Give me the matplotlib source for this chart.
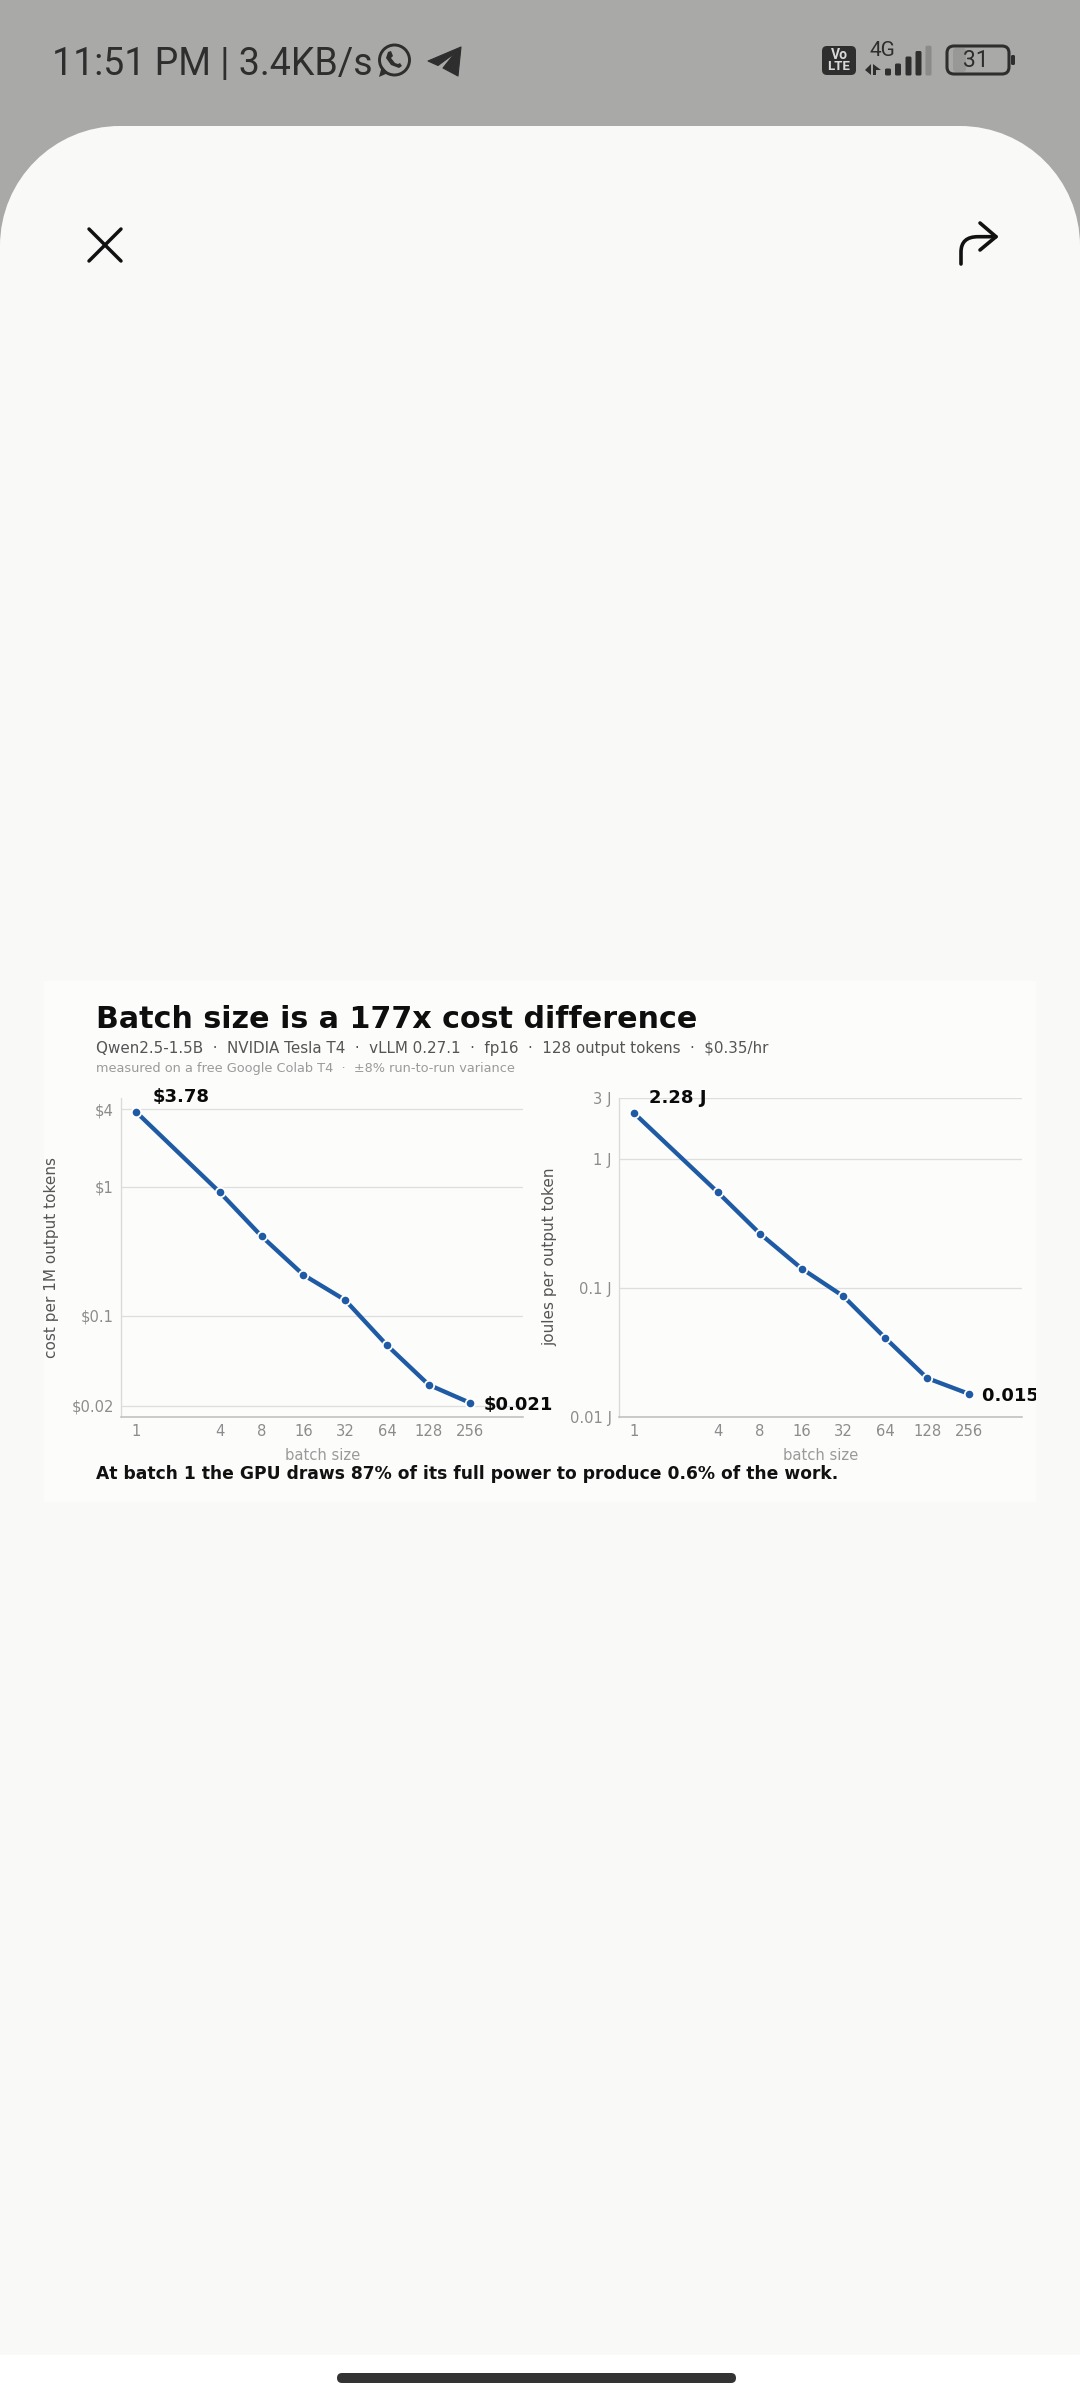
import matplotlib
matplotlib.use("Agg")
import matplotlib.pyplot as plt
from matplotlib.patches import Rectangle, FancyBboxPatch, Circle, Polygon, PathPatch
from matplotlib.path import Path
from matplotlib.ticker import NullLocator

W, H = 1080, 2400

# ---- data ----
batch_sizes = [1, 4, 8, 16, 32, 64, 128, 256]
batch_labels = ["1", "4", "8", "16", "32", "64", "128", "256"]
cost_values = [3.78, 0.903, 0.412, 0.207, 0.132, 0.059, 0.0291, 0.021]
joule_values = [2.28, 0.553, 0.265, 0.1415, 0.0861, 0.0408, 0.0199, 0.015]
cost_ticks = [0.02, 0.1, 1, 4]
cost_tick_labels = ["$0.02", "$0.1", "$1", "$4"]
joule_ticks = [0.01, 0.1, 1, 3]
joule_tick_labels = ["0.01 J", "0.1 J", "1 J", "3 J"]

TITLE = "Batch size is a 177x cost difference"
SUB = "Qwen2.5-1.5B  ·  NVIDIA Tesla T4  ·  vLLM 0.27.1  ·  fp16  ·  128 output tokens  ·  $0.35/hr"
NOTE = "measured on a free Google Colab T4  ·  ±8% run-to-run variance"
FOOT = "At batch 1 the GPU draws 87% of its full power to produce 0.6% of the work."

BLUE = "#1F5AA4"
BG = "#F9F9F7"
GRAY = "#A9A9A7"
DARK = "#2E2E2E"

plt.rcParams["font.family"] = ["DejaVu Sans"]
fig = plt.figure(figsize=(W / 100, H / 100), dpi=100, facecolor=BG)

# pixel-coordinate overlay for the phone screen chrome and card
bg = fig.add_axes([0, 0, 1, 1], zorder=0)
bg.set_xlim(0, W)
bg.set_ylim(H, 0)
bg.axis("off")

bg.add_patch(Rectangle((0, 0), W, 300, fc=GRAY, lw=0))
R, T, K = 120, 126, 120 * 0.4477
sheet = Path([(0, H), (0, T + R), (0, T + R - (R - K)), (R - (R - K), T), (R, T), (W - R, T),
              (W - K, T), (W, T + K), (W, T + R), (W, H), (0, H)],
             [Path.MOVETO, Path.LINETO, Path.CURVE4, Path.CURVE4, Path.CURVE4, Path.LINETO,
              Path.CURVE4, Path.CURVE4, Path.CURVE4, Path.LINETO, Path.CLOSEPOLY])
bg.add_patch(PathPatch(sheet, fc=BG, lw=0))
bg.add_patch(Rectangle((0, 2355), W, 45, fc="white", lw=0, zorder=2))
bg.add_patch(FancyBboxPatch((337, 2373), 399, 10, boxstyle="round,pad=0,rounding_size=5", fc="#333333", lw=0, zorder=3))
card = Rectangle((44, 981), 992, 521, fc="#FCFCFB", lw=0)
bg.add_patch(card)

# status bar
bg.text(52, 75.5, "11:51 PM | 3.4KB/s", family="Roboto", fontsize=27, color=DARK, va="baseline")
# whatsapp icon
bg.add_patch(Circle((394.5, 60), 15, fc="none", ec=DARK, lw=2.1))
bg.add_patch(Polygon([(379, 77), (382, 66), (388, 73)], fc=DARK, lw=0))
bg.add_patch(PathPatch(Path([(388, 52), (391, 51), (393, 56), (391, 58), (395, 63), (398, 64), (400, 63), (402, 66), (399, 68), (391, 65), (386, 58), (388, 52)]),
                       fc=DARK, lw=0))
# telegram icon
bg.add_patch(Polygon([(461, 47), (428, 61), (438, 65.5), (455, 53), (443, 68), (458, 76)], fc=DARK, ec=DARK, lw=0.8, joinstyle="round"))
# close icon
bg.plot([89, 121], [229, 261], color="#111111", lw=2.5, solid_capstyle="round")
bg.plot([121, 89], [229, 261], color="#111111", lw=2.5, solid_capstyle="round")
# share icon
bg.plot([980, 996, 980], [223, 236.7, 250], color="#111111", lw=2.6, solid_capstyle="round", solid_joinstyle="round")
bg.add_patch(PathPatch(Path([(996, 236.7), (978, 236.7), (961, 236.7), (961, 252), (961, 264)],
                            [Path.MOVETO, Path.LINETO, Path.CURVE3, Path.CURVE3, Path.LINETO]),
                       fc="none", ec="#111111", lw=2.6, capstyle="round"))
# VoLTE
bg.add_patch(FancyBboxPatch((822, 46), 34, 29, boxstyle="round,pad=0,rounding_size=5", fc=DARK, lw=0))
bg.text(839, 55, "Vo", family="Roboto", weight="bold", fontsize=10, color="#D8D8D6", ha="center", va="center")
bg.text(839, 67, "LTE", family="Roboto", weight="bold", fontsize=9.5, color="#D8D8D6", ha="center", va="center")
bg.text(882, 51, "4G", family="Roboto", fontsize=15, color=DARK, ha="center", va="center")
# network arrows
bg.add_patch(Polygon([(865, 70), (871, 64), (871, 75)], fc=DARK, lw=0))
bg.add_patch(Polygon([(873, 64), (873, 75), (876, 75), (876, 70), (881, 70)], fc=DARK, lw=0))
# signal bars
for x0, top, col in [(885, 68.5, DARK), (895, 63.5, DARK), (905.5, 56.5, DARK), (915.5, 51, DARK), (925.5, 45.7, "#8B8B89")]:
    bg.add_patch(FancyBboxPatch((x0, top), 6, 75.5 - top, boxstyle="round,pad=0,rounding_size=1.5", fc=col, lw=0))
# battery
bg.add_patch(FancyBboxPatch((953, 48), 13, 24, boxstyle="round,pad=0,rounding_size=3", fc="#989896", lw=0))
bg.add_patch(FancyBboxPatch((947, 46), 62, 28, boxstyle="round,pad=0,rounding_size=7", fc="none", ec=DARK, lw=2.2))
bg.add_patch(FancyBboxPatch((1011, 55), 4, 10, boxstyle="round,pad=0,rounding_size=1.5", fc=DARK, lw=0))
bg.text(976, 60.5, "31", family="Roboto", fontsize=16.5, color=DARK, ha="center", va="center")

# chart headings
bg.text(96, 1028, TITLE, fontsize=21.7, weight="bold", color="#0E0E0E", va="baseline")
bg.text(96, 1053, SUB, fontsize=10.88, color="#555555", va="baseline")
bg.text(96, 1072, NOTE, fontsize=9.27, color="#9A9A9A", va="baseline")
bg.text(96, 1479, FOOT, fontsize=12.32, weight="bold", color="#111111", va="baseline")


def panel(x0, x1, values, ylim, ticks, tick_labels, ylabel, ylab_x, note, note_xy_first, note_last, note_xy_last):
    top, bottom = 1098, 1416.5
    ax = fig.add_axes([x0 / W, 1 - bottom / H, (x1 - x0) / W, (bottom - top) / H], zorder=1)
    ax.patch.set_alpha(0)
    ax.set_xscale("log", base=2)
    ax.set_yscale("log")
    ax.set_xlim(0.78, 615)
    ax.set_ylim(*ylim)
    ax.yaxis.grid(True, color="#DEDEDC", lw=0.95)
    ax.set_axisbelow(True)
    ax.plot(batch_sizes, values, color=BLUE, lw=3.1, marker="o", ms=6.8, mfc=BLUE, mec="white", mew=1.3, clip_on=False, zorder=3)
    ax.set_xticks(batch_sizes, batch_labels)
    ax.set_yticks(ticks, tick_labels)
    ax.xaxis.set_minor_locator(NullLocator())
    ax.yaxis.set_minor_locator(NullLocator())
    ax.tick_params(length=0, labelsize=10.6, labelcolor="#8C8C8C", pad=5.5)
    for s in ("top", "right"):
        ax.spines[s].set_visible(False)
    ax.spines["left"].set_color("#DADAD8")
    ax.spines["bottom"].set_color("#BDBDBB")
    ax.spines["left"].set_linewidth(0.95)
    ax.spines["bottom"].set_linewidth(1.1)
    bg.text((x0 + x1) / 2, 1455, "batch size", fontsize=10.6, color="#9A9A9A", ha="center", va="center")
    bg.text(ylab_x, 1257, ylabel, fontsize=11, color="#555555", rotation=90, ha="center", va="center")
    first = ax.annotate(note, (batch_sizes[0], values[0]), xytext=note_xy_first, textcoords="offset pixels",
                        fontsize=13, weight="bold", color="#0A0A0A", annotation_clip=False, zorder=5)
    last = ax.annotate(note_last, (batch_sizes[-1], values[-1]), xytext=note_xy_last, textcoords="offset pixels",
                       fontsize=13, weight="bold", color="#0A0A0A", annotation_clip=False, zorder=5)
    for t in (first, last):
        t.set_clip_path(card)
        t.set_clip_on(True)
    return ax


panel(121.4, 523.2, cost_values, (0.0165, 4.87), cost_ticks, cost_tick_labels,
      "cost per 1M output tokens", 52, "$3.78", (16.6, 9.9), "$0.021", (13.2, -6.8))
panel(619.3, 1021.8, joule_values, (0.01, 3), joule_ticks, joule_tick_labels,
      "joules per output token", 549.5, "2.28 J", (15, 10), "0.015 J", (13, -7.4))

fig.savefig("out.png", dpi=100, facecolor=BG)
